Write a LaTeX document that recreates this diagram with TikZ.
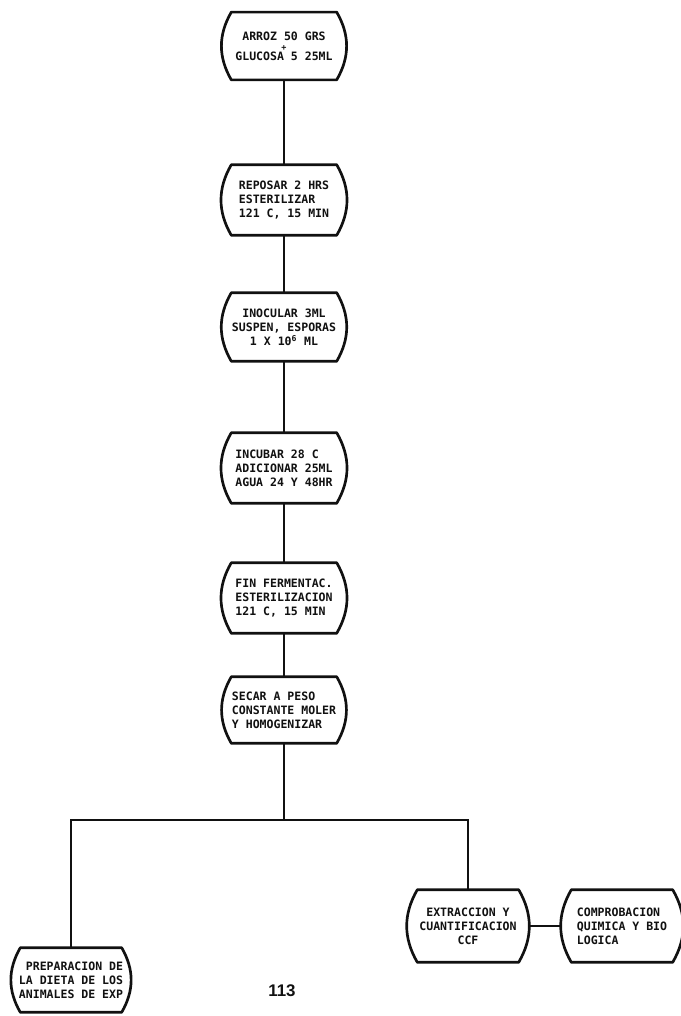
\documentclass[tikz,border=0pt]{standalone}
\usepackage{fontspec}
\setmonofont{DejaVu Sans Mono}
\setsansfont{Liberation Sans}
\definecolor{Paper}{HTML}{FFFFFF}
\definecolor{Ink}{HTML}{111111}

\begin{document}
\begin{tikzpicture}[x=0.025cm,y=-0.025cm,font=\ttfamily\bfseries\fontsize{8.2}{10}\selectfont,text=Ink,stepbox/.style={minimum width=3.1cm,minimum height=1.75cm,inner sep=1pt,align=left},sidebox/.style={minimum width=3cm,minimum height=1.8cm,inner sep=1pt,align=left},outline/.style={draw=Ink,line width=1.9pt,line join=round},link/.style={draw=Ink,line width=1.1pt}]
\fill[Paper] (0,0) rectangle (681,1016);
\useasboundingbox (0,0) rectangle (681,1016);
\node[stepbox,align=center,minimum height=1.68cm] (rice) at (284,46){ARROZ 50 GRS\\[-3pt]{\fontsize{6}{6}\selectfont +}\\[-3pt]GLUCOSA 5 25ML};
\node[stepbox] (rest) at (284,200){REPOSAR 2 HRS\\ESTERILIZAR\\121 C, 15 MIN};
\node[stepbox,align=center,minimum height=1.7cm] (inoculate) at (284,327){INOCULAR 3ML\\SUSPEN, ESPORAS\\1 X 10\textsuperscript{6} ML};
\node[stepbox] (incubate) at (284,468){INCUBAR 28 C\\ADICIONAR 25ML\\AGUA 24 Y 48HR};
\node[stepbox] (endferm) at (284,598){FIN FERMENTAC.\\ESTERILIZACION\\121 C, 15 MIN};
\node[stepbox,minimum height=1.65cm] (dry) at (284,710){SECAR A PESO\\CONSTANTE MOLER\\Y HOMOGENIZAR};
\node[sidebox,align=right,minimum height=1.6cm] (diet) at (71,980){PREPARACION DE\\LA DIETA DE LOS\\ANIMALES DE EXP};
\node[sidebox,align=center] (extract) at (468,926){EXTRACCION Y\\CUANTIFICACION\\CCF};
\node[sidebox] (verify) at (622,926){COMPROBACION\\QUIMICA Y BIO\\LOGICA};
\node[font=\sffamily\bfseries\fontsize{12}{12}\selectfont] (page) at (282,991){113};
\foreach \n in {rice,rest,inoculate,incubate,endferm,dry,diet,extract,verify}
  \draw[outline] ([xshift=0.24cm]\n.north west) -- ([xshift=-0.24cm]\n.north east) to[bend left=30] ([xshift=-0.24cm]\n.south east) -- ([xshift=0.24cm]\n.south west) to[bend left=30] cycle;
\draw[link] (rice) -- (rest);\draw[link] (rest) -- (inoculate);\draw[link] (inoculate) -- (incubate);\draw[link] (incubate) -- (endferm);\draw[link] (endferm) -- (dry);
\coordinate (split) at (284,820);
\draw[link] (dry.south) -- (split);
\draw[link] (diet.north) |- (split) -| (extract.north);
\draw[link] (extract.east) -- (verify.west);
\end{tikzpicture}
\end{document}
